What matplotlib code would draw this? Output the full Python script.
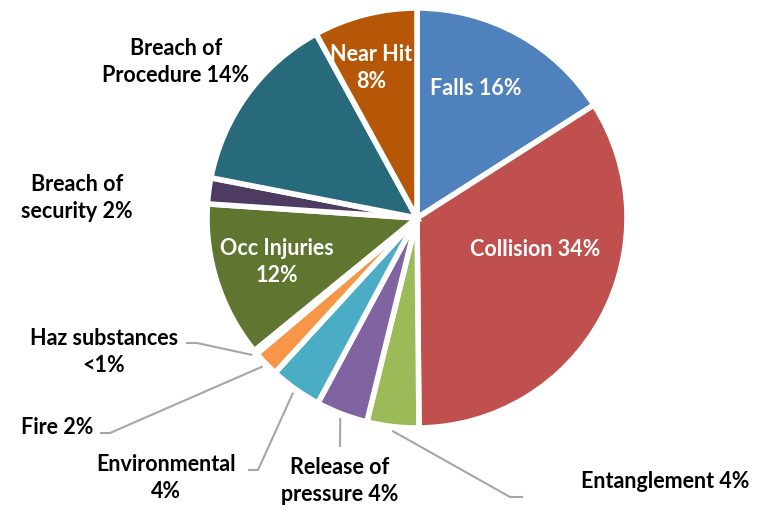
import matplotlib.pyplot as plt
import numpy as np

# incident categories, clockwise from 12 o'clock
categories = ['Falls', 'Collision', 'Entanglement', 'Release of pressure',
              'Environmental', 'Fire', 'Haz substances', 'Occ Injuries',
              'Breach of security', 'Breach of Procedure', 'Near Hit']
shares = [16, 34, 4, 4, 4, 2, 0.3, 12, 2, 14, 8]
label_text = ['Falls 16%', 'Collision 34%', 'Entanglement 4%',
              'Release of\npressure 4%', 'Environmental\n4%', 'Fire 2%',
              'Haz substances\n<1%', 'Occ Injuries\n12%',
              'Breach of\nsecurity 2%', 'Breach of\nProcedure 14%', 'Near Hit\n8%']
colors = ['#4F81BD', '#C0504D', '#9BBB59', '#8064A2', '#4BACC6', '#F79646',
          '#2C4D75', '#5F7530', '#4D3B62', '#276A7C', '#B65708']

W, H = 758, 508
CX, CY, R = 417, 218, 210   # pie centre / radius in pixels (from top-left)
FS = 15.5


def px(x, y):
    return (x - CX) / R, (CY - y) / R


plt.rcParams['font.family'] = ['Lato', 'DejaVu Sans']
fig = plt.figure(figsize=(W / 100, H / 100), dpi=100)
ax = fig.add_axes([0, 0, 1, 1])

wedges, _ = ax.pie(shares, colors=colors, startangle=90, counterclock=False,
                   wedgeprops=dict(edgecolor='white', linewidth=4))
ax.set_xlim(-CX / R, (W - CX) / R)
ax.set_ylim(-(H - CY) / R, CY / R)
ax.set_aspect('equal')
ax.axis('off')

# labels inside the slices (white)
inside = {0: (476, 88), 1: (535, 249), 7: (277, 262), 10: (371, 68)}
for i, (x, y) in inside.items():
    ax.text(*px(x, y), label_text[i], color='white', fontsize=FS,
            fontweight='bold', ha='center', va='center', linespacing=1.3)

# labels outside without leader lines
outside = {9: (176, 62), 8: (77, 198)}
for i, (x, y) in outside.items():
    ax.text(*px(x, y), label_text[i], color='black', fontsize=FS,
            fontweight='bold', ha='center', va='center', linespacing=1.3)

# labels with leader lines: text centre, line start, elbow
leader = {
    6: ((104, 352), (186, 343), (197, 343)),
    5: ((57, 427), (100, 433), (110, 433)),
    4: ((166, 478), (248, 470), (258, 470)),
    3: ((340, 481), (340, 447), (340, 447)),
    2: ((665, 481), (523, 497), (510, 497)),
}
for i, (tpos, start, elbow) in leader.items():
    w = wedges[i]
    mid = np.deg2rad((w.theta1 + w.theta2) / 2)
    ax_, ay_ = 1.02 * np.cos(mid), 1.02 * np.sin(mid)
    sx, sy = px(*start)
    ex, ey = px(*elbow)
    ax.plot([sx, ex, ax_], [sy, ey, ay_], color='#A6A6A6', lw=1.5,
            solid_capstyle='butt')
    ax.text(*px(*tpos), label_text[i], color='black', fontsize=FS,
            fontweight='bold', ha='center', va='center', linespacing=1.3)

fig.savefig('out.png', dpi=100)
